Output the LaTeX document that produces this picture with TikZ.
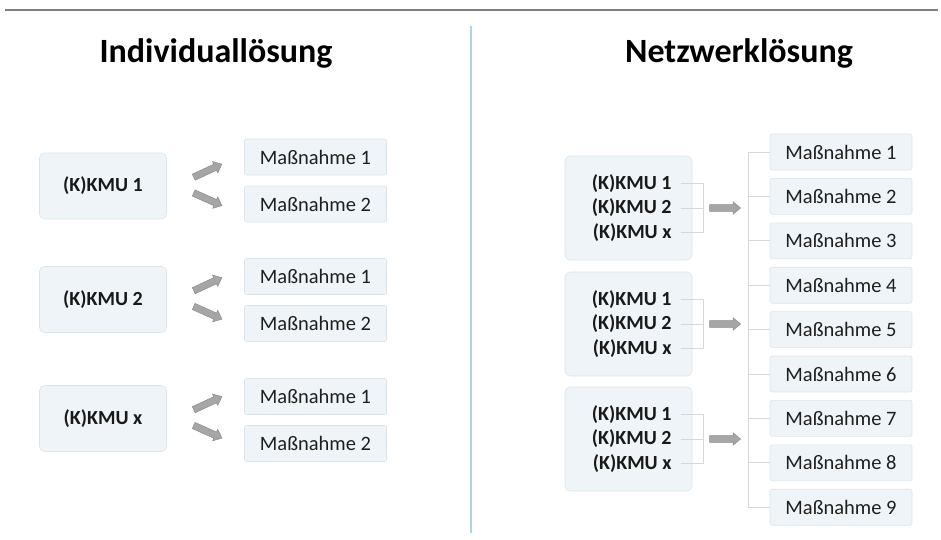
\documentclass[tikz,border=0pt]{standalone}
\usepackage{fontspec}
\setmainfont{Carlito}
\usetikzlibrary{shapes.arrows,calc}
\definecolor{boxfill}{HTML}{EEF4F7}
\definecolor{boxdraw}{HTML}{DCE4EA}
\definecolor{divider}{HTML}{B4D4E2}
\definecolor{treeline}{HTML}{D4D8DA}
\definecolor{arrfill}{HTML}{A6A6A6}
\definecolor{arrdraw}{HTML}{8C8C8C}
\tikzset{
  title/.style={font=\bfseries\fontsize{34}{40}\selectfont, text=black},
  kmubox/.style={draw=boxdraw, fill=boxfill, rounded corners=5pt, line width=0.6pt, minimum width=127pt},
  kmutext/.style={font=\bfseries\fontsize{20}{24}\selectfont, text=black!90},
  massbox/.style={draw=boxdraw, fill=boxfill, rounded corners=2pt, line width=0.6pt, minimum width=142pt, minimum height=36pt, font=\fontsize{20.5}{24}\selectfont, text=black!88},
  blockarrow/.style={single arrow, draw=arrdraw, fill=arrfill, line width=0.5pt, minimum width=12.5pt, single arrow head extend=2.8pt, single arrow tip angle=80, minimum height=31pt, inner sep=3pt},
  bracket/.style={draw=treeline, line width=0.8pt},
}
\begin{document}
\begin{tikzpicture}[x=1pt,y=-1pt]
\useasboundingbox (0,0) rectangle (941,540);
% rules
\draw[gray, line width=1.3pt] (5,10) -- (938,10);
\draw[divider, line width=1.2pt] (471,26) -- (471,533);
% titles
\node[title] (t1) at (216,53) {Individuallösung};
\node[title] (t2) at (739,53) {Netzwerklösung};
% left column
\foreach \n/\lab/\cy/\ma/\mb in {1/{(K)KMU 1}/186/157/204, 2/{(K)KMU 2}/299.5/276.5/323.5, 3/{(K)KMU x}/418.5/396.5/443.5}{
  \node[kmubox, minimum height=66pt, kmutext] (k\n) at (103,\cy) {\lab};
  \node[massbox] (m\n a) at (315.5,\ma) {Maßnahme 1};
  \node[massbox] (m\n b) at (315.5,\mb) {Maßnahme 2};
  \node[blockarrow, rotate=25] (ua\n) at (206,\cy-14.5) {};
  \node[blockarrow, rotate=-24] (da\n) at (206,\cy+12.5) {};
}
% right column groups
\foreach \g/\cy in {1/208, 2/324, 3/439}{
  \node[kmubox, minimum height=104pt] (g\g) at (628.5,\cy) {};
  \node[kmutext, anchor=east] (g\g a) at (675,\cy-24.5) {(K)KMU 1};
  \node[kmutext, anchor=east] (g\g b) at (675,\cy) {(K)KMU 2};
  \node[kmutext, anchor=east] (g\g c) at (675,\cy+24.5) {(K)KMU x};
  \coordinate (j\g) at (703,\cy);
  \draw[bracket] ([xshift=6pt]g\g a.east) -| (j\g) |- ([xshift=6pt]g\g c.east);
  \draw[bracket] ([xshift=6pt]g\g b.east) -- (j\g);
  \node[blockarrow, minimum height=31pt] (ga\g) at (723,\cy) {};
}
% tree of measures
\foreach \i in {1,...,9}{
  \node[massbox] (r\i) at (841,{152+44.4*(\i-1)}) {Maßnahme \i};
  \coordinate (b\i) at (748,{152+44.4*(\i-1)});
  \draw[bracket] (b\i) -- (r\i.west);
}
\draw[bracket] (b1) -- (b9);
\end{tikzpicture}
\end{document}
